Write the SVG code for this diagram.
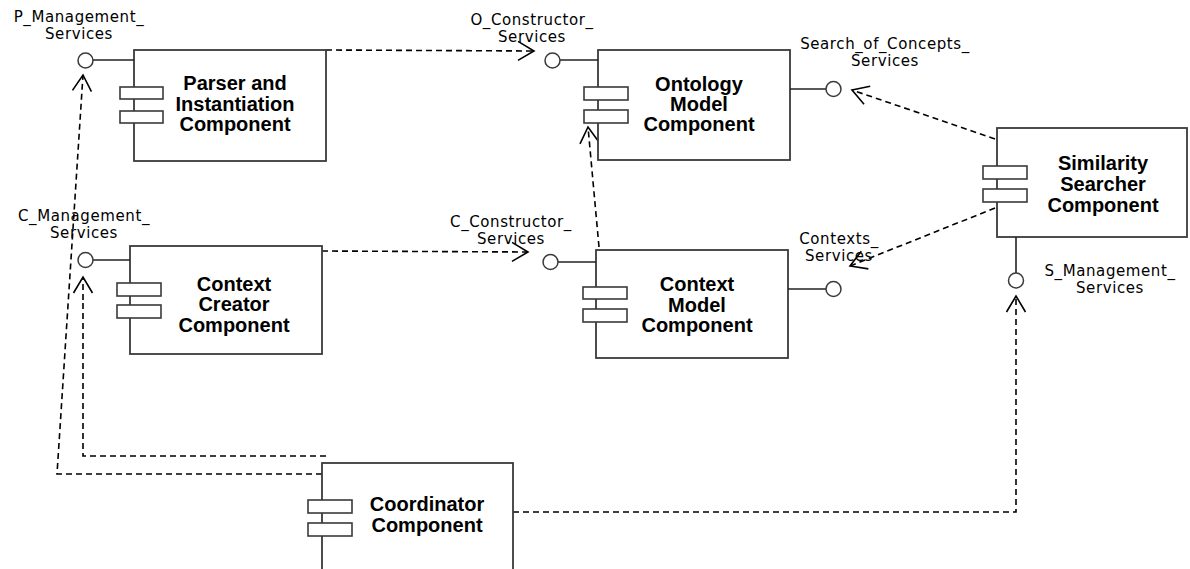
<svg xmlns="http://www.w3.org/2000/svg" width="1190" height="569" viewBox="0 0 1190 569">
<defs>
<marker id="open" markerUnits="userSpaceOnUse" markerWidth="20" markerHeight="22" viewBox="-17 -11 19 22" refX="0" refY="0" orient="auto">
<path d="M-16,-9.5 L0,0 L-16,9.5" fill="none" stroke="#000" stroke-width="1.6"/>
</marker>
</defs>
<style>
.box{fill:#fff;stroke:#3a3a3a;stroke-width:1.8}
.sub{fill:#fff;stroke:#3a3a3a;stroke-width:1.6}
.iface{fill:#fff;stroke:#3a3a3a;stroke-width:1.5}
.stem{stroke:#222;stroke-width:1.6;fill:none}
.dep{fill:none;stroke:#000;stroke-width:1.6;stroke-dasharray:6,4;marker-end:url(#open)}
.dep2{fill:none;stroke:#000;stroke-width:1.6;stroke-dasharray:6,4}
.lbl{font-family:"DejaVu Sans",sans-serif;font-size:15px;letter-spacing:0.6px;fill:#000;text-anchor:middle}
.name{font-family:"Liberation Sans",Arial,sans-serif;font-size:20px;font-weight:bold;fill:#000;text-anchor:middle}
</style>
<rect width="1190" height="569" fill="#fff"/>

<g id="connectors">
<path class="dep" d="M326,50 L534,51"/>
<path class="dep" d="M599,247 L588,127"/>
<path class="dep" d="M322,251 L528,252"/>
<path class="dep" d="M995,139 L852,90"/>
<path class="dep" d="M995,208 L850,266"/>
<path class="dep" d="M322,474 L57,474 L83,75"/>
<path class="dep2" d="M326,456 L83,456 L83,300"/>
<path class="dep" d="M83,300 L83,277"/>
<path class="dep" d="M513,512 L1016,512 L1016,296"/>
</g>

<g id="parser">
<rect class="box" x="134" y="50" width="192" height="111"/>
<rect class="sub" x="120" y="87" width="43" height="12"/>
<rect class="sub" x="120" y="111" width="43" height="12"/>
<text class="name" x="235" y="90">Parser and</text>
<text class="name" x="235" y="111">Instantiation</text>
<text class="name" x="235" y="131">Component</text>
</g>

<g id="p_management">
<line class="stem" x1="93" y1="60" x2="134" y2="60"/>
<circle class="iface" cx="85.5" cy="60.5" r="7.5"/>
<text class="lbl" x="79" y="22">P_Management_</text>
<text class="lbl" x="79" y="39">Services</text>
</g>

<g id="ontology">
<rect class="box" x="598" y="50" width="192" height="110"/>
<rect class="sub" x="584" y="87" width="44" height="13"/>
<rect class="sub" x="584" y="110" width="44" height="13"/>
<text class="name" x="699" y="91">Ontology</text>
<text class="name" x="699" y="111">Model</text>
<text class="name" x="699" y="131">Component</text>
</g>

<g id="o_constructor">
<line class="stem" x1="560" y1="60" x2="598" y2="60"/>
<circle class="iface" cx="552.5" cy="60.5" r="7.5"/>
<text class="lbl" x="532" y="25">O_Constructor_</text>
<text class="lbl" x="532" y="42">Services</text>
</g>

<g id="search_of_concepts">
<line class="stem" x1="790" y1="89" x2="826" y2="89"/>
<circle class="iface" cx="833.5" cy="89" r="7.5"/>
<text class="lbl" x="885" y="49">Search_of_Concepts_</text>
<text class="lbl" x="885" y="66">Services</text>
</g>

<g id="similarity">
<rect class="box" x="997" y="128" width="190" height="109"/>
<rect class="sub" x="983" y="166" width="44" height="13"/>
<rect class="sub" x="983" y="189" width="44" height="13"/>
<text class="name" x="1103" y="170">Similarity</text>
<text class="name" x="1103" y="191">Searcher</text>
<text class="name" x="1103" y="212">Component</text>
</g>

<g id="s_management">
<line class="stem" x1="1016" y1="237" x2="1016" y2="273"/>
<circle class="iface" cx="1016" cy="280.5" r="7.5"/>
<text class="lbl" x="1110" y="276">S_Management_</text>
<text class="lbl" x="1110" y="293">Services</text>
</g>

<g id="context_creator">
<rect class="box" x="130" y="246" width="192" height="108"/>
<rect class="sub" x="117" y="283" width="44" height="13"/>
<rect class="sub" x="117" y="305" width="44" height="13"/>
<text class="name" x="234" y="291">Context</text>
<text class="name" x="234" y="311">Creator</text>
<text class="name" x="234" y="332">Component</text>
</g>

<g id="c_management">
<line class="stem" x1="93" y1="260" x2="130" y2="260"/>
<circle class="iface" cx="85.5" cy="260" r="7.5"/>
<text class="lbl" x="84" y="221">C_Management_</text>
<text class="lbl" x="84" y="238">Services</text>
</g>

<g id="context_model">
<rect class="box" x="596" y="250" width="192" height="108"/>
<rect class="sub" x="583" y="287" width="44" height="12"/>
<rect class="sub" x="583" y="309" width="44" height="13"/>
<text class="name" x="697" y="291">Context</text>
<text class="name" x="697" y="312">Model</text>
<text class="name" x="697" y="332">Component</text>
</g>

<g id="c_constructor">
<line class="stem" x1="558" y1="262" x2="596" y2="262"/>
<circle class="iface" cx="550.5" cy="262" r="7.5"/>
<text class="lbl" x="511" y="227">C_Constructor_</text>
<text class="lbl" x="511" y="244">Services</text>
</g>

<g id="contexts">
<line class="stem" x1="788" y1="289" x2="826" y2="289"/>
<circle class="iface" cx="833.5" cy="289" r="7.5"/>
<text class="lbl" x="839" y="244">Contexts_</text>
<text class="lbl" x="839" y="261">Services</text>
</g>

<g id="coordinator">
<rect class="box" x="322" y="463" width="191" height="120"/>
<rect class="sub" x="308" y="500" width="44" height="13"/>
<rect class="sub" x="308" y="523" width="44" height="13"/>
<text class="name" x="427" y="511">Coordinator</text>
<text class="name" x="427" y="532">Component</text>
</g>
</svg>
